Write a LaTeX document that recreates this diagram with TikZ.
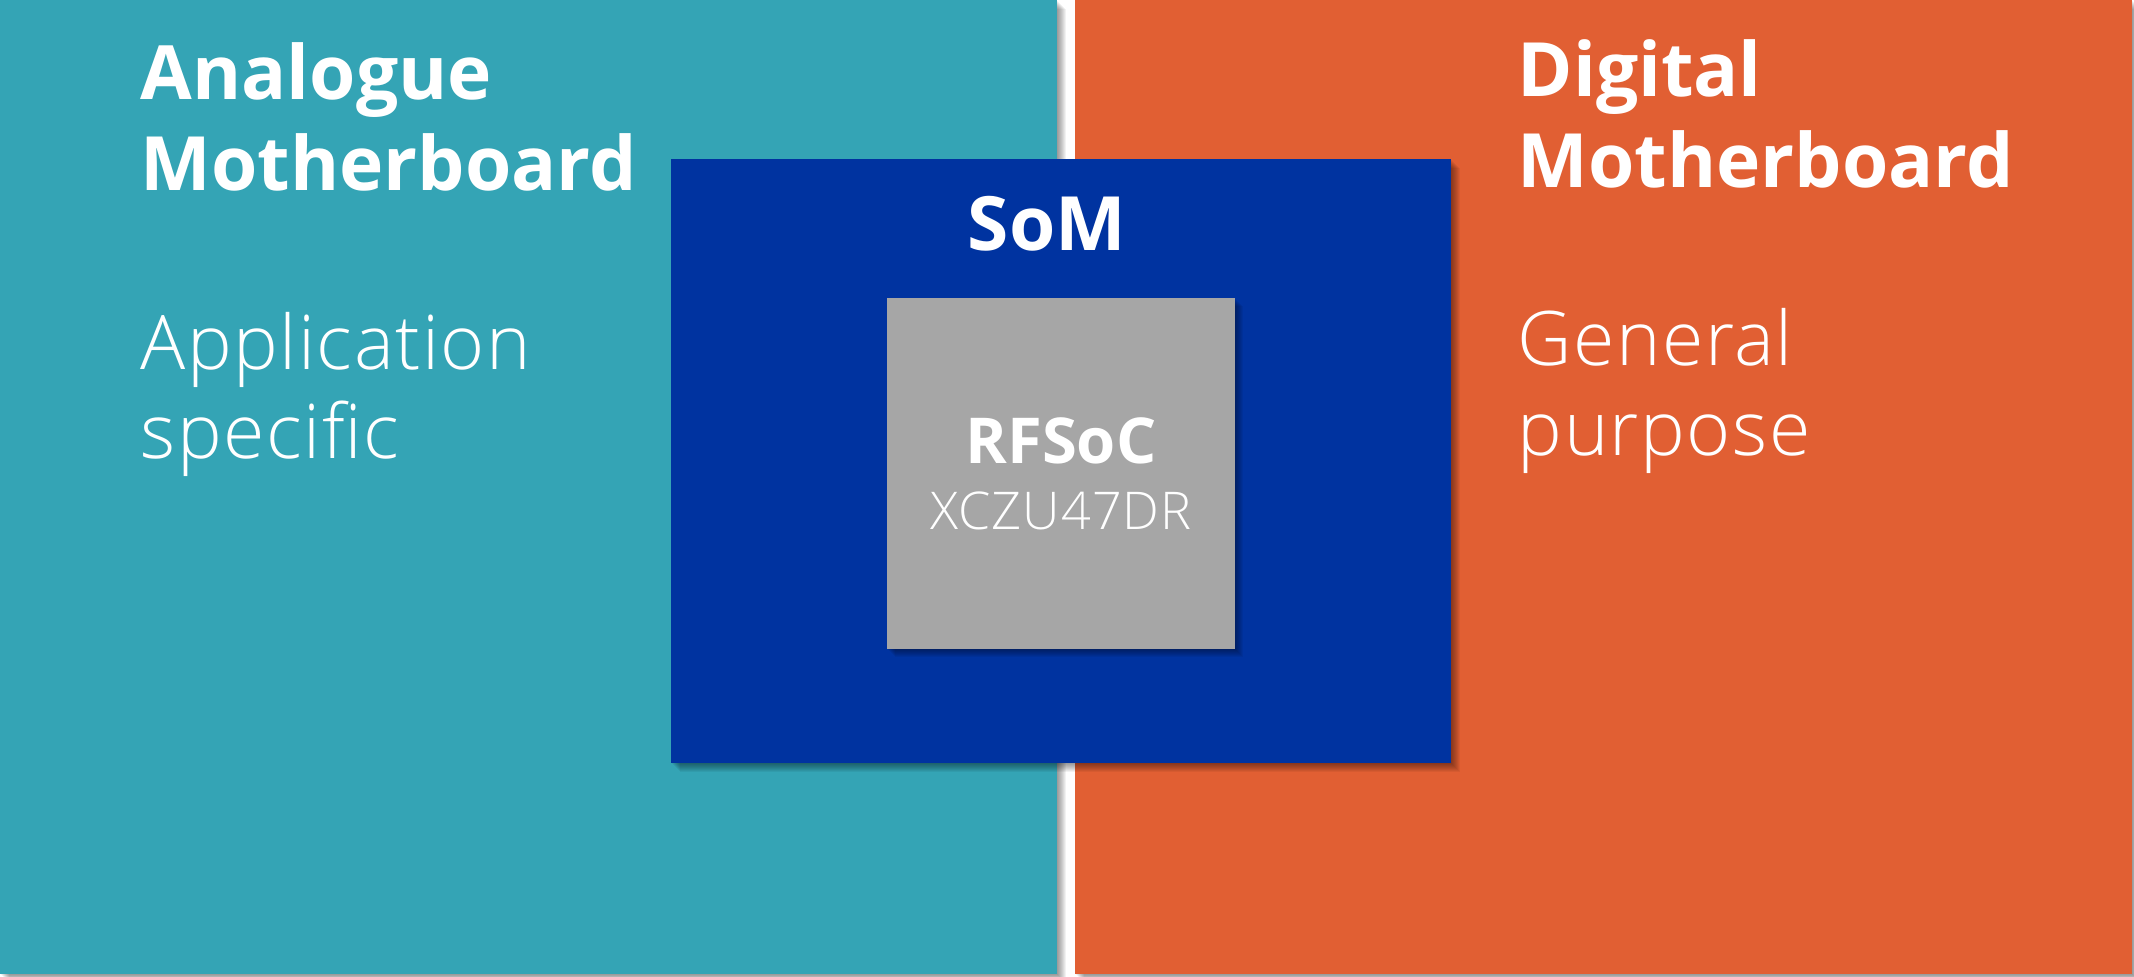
\documentclass[tikz,border=0pt]{standalone}
\usepackage{fontspec}
\setmainfont{Open Sans}
\newfontfamily\lightfont[LetterSpace=2]{Open Sans Light}

\definecolor{analogue}{HTML}{34A4B5}
\definecolor{digital}{HTML}{E15F33}
\definecolor{som}{HTML}{0033A0}
\definecolor{chip}{HTML}{A6A6A6}

\begin{document}
\begin{tikzpicture}
  [x=0.01cm,y=-0.01cm,
   shade/.style={fill=black,opacity=.05},
   title/.style={text=white,anchor=base west,align=left,inner sep=0pt,
     font=\fontsize{21.3}{25.4}\selectfont\bfseries},
   sub/.style={text=white,anchor=base west,align=left,inner sep=0pt,
     font=\fontsize{21.4}{25.4}\selectfont\lightfont}]
  \useasboundingbox (0,0) rectangle (2134,976);
  \fill[white] (0,0) rectangle (2134,976);
  % boards with soft shadows
  \foreach \d in {1,...,9}
    \fill[shade] (1075+\d,\d) rectangle (2132+\d,974+\d);
  \fill[digital] (1075,0) rectangle (2132,974);
  \foreach \d in {1,...,9}
    \fill[shade] (\d,\d) rectangle (1057+\d,974+\d);
  \fill[analogue] (0,0) rectangle (1057,974);
  \foreach \d in {1,...,9}
    \fill[shade] (671+\d,159+\d) rectangle (1451+\d,763+\d);
  \fill[som] (671,159) rectangle (1451,763);
  \foreach \d in {1,...,8}
    \fill[shade] (887+\d,298+\d) rectangle (1235+\d,649+\d);
  \fill[chip] (887,298) rectangle (1235,649);
  % texts
  \node[title] (atitle) at (140,100) {Analogue};
  \node[title] (atitle2) at (140,190) {Motherboard};
  \node[sub] (asub) at (140,369) {Application};
  \node[sub] (asub2) at (140,458) {specific};
  \node[title] (dtitle) at (1517,97) {Digital};
  \node[title] (dtitle2) at (1517,187) {Motherboard};
  \node[sub] (dsub) at (1517,365) {General};
  \node[sub] (dsub2) at (1517,455) {purpose};
  \node[title,anchor=base] (som) at (1047,251) {SoM};
  \node[title,anchor=base,font=\fontsize{18}{22}\selectfont\bfseries] (rfsoc) at (1061,463) {RFSoC};
  \node[sub,anchor=base,font=\fontsize{14.8}{18}\selectfont\lightfont] (part) at (1061,529) {XCZU47DR};
\end{tikzpicture}
\end{document}
